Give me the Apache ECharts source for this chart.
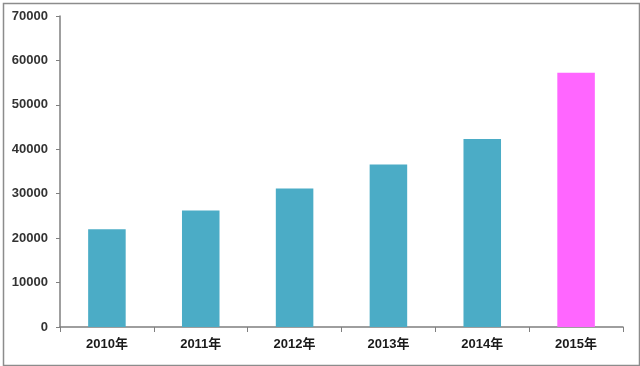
<!DOCTYPE html>
<html><head><meta charset="utf-8">
<script src="https://cdn.jsdelivr.net/npm/echarts@6/dist/echarts.min.js"></script>
<style>html,body{margin:0;padding:0;background:#fff}#c{width:640px;height:366px}</style>
</head><body><div id="c"></div>
<script>
const categories = ['2010年','2011年','2012年','2013年','2014年','2015年'];
const values = [22000, 26200, 31200, 36600, 42300, 57200];
const barColors = ['#4BACC6','#4BACC6','#4BACC6','#4BACC6','#4BACC6','#FF66FF'];
const yTicks = {min: 0, max: 70000, interval: 10000};

const chart = echarts.init(document.getElementById('c'), null, {renderer: 'canvas'});
chart.setOption({
  animation: false,
  backgroundColor: '#fff',
  graphic: [{
    type: 'rect', left: 1, top: 1,
    shape: {width: 636, height: 362},
    style: {fill: 'none', stroke: '#8c8c8c', lineWidth: 1.5}
  }],
  grid: {left: 60, top: 16, right: 17, bottom: 39},
  xAxis: {
    type: 'category', data: categories,
    axisLine: {lineStyle: {color: '#7f7f7f', width: 1.5}},
    axisTick: {show: true, length: 5, lineStyle: {color: '#7f7f7f'}},
    axisLabel: {color: '#1a1a1a', fontWeight: 'bold', fontSize: 13, margin: 11, fontFamily: 'Liberation Sans, "Noto Sans CJK SC", sans-serif'}
  },
  yAxis: {
    type: 'value', min: yTicks.min, max: yTicks.max, interval: yTicks.interval,
    splitLine: {show: false},
    axisLine: {show: true, lineStyle: {color: '#7f7f7f', width: 1.5}},
    axisTick: {show: true, length: 4, lineStyle: {color: '#7f7f7f'}},
    axisLabel: {color: '#333', fontWeight: 'bold', fontSize: 13, margin: 12, fontFamily: 'Liberation Sans, sans-serif',
      formatter: v => String(v)}
  },
  series: [{
    type: 'bar', barWidth: '40%',
    data: values.map((v, i) => ({value: v, itemStyle: {color: barColors[i]}}))
  }]
});
</script></body></html>
